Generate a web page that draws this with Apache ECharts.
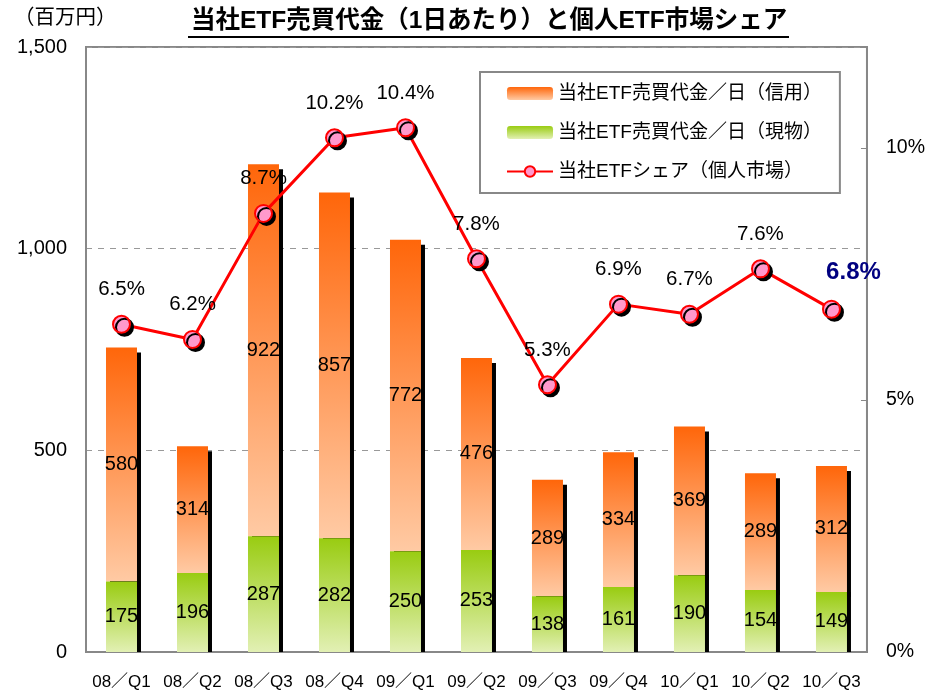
<!DOCTYPE html>
<html>
<head>
<meta charset="utf-8">
<script src="https://cdn.jsdelivr.net/npm/echarts@6/dist/echarts.min.js"></script>
<style>
  html, body { margin: 0; padding: 0; background: #fff; }
  #main { width: 928px; height: 692px; }
</style>
</head>
<body>
<div id="main"></div>
<script>
// データ
const categories = ["08／Q1", "08／Q2", "08／Q3", "08／Q4", "09／Q1", "09／Q2", "09／Q3", "09／Q4", "10／Q1", "10／Q2", "10／Q3"];
const genbutsu = [175, 196, 287, 282, 250, 253, 138, 161, 190, 154, 149]; // 現物
const shinyo = [580, 314, 922, 857, 772, 476, 289, 334, 369, 289, 312];   // 信用
const share = [6.5, 6.2, 8.7, 10.2, 10.4, 7.8, 5.3, 6.9, 6.7, 7.6, 6.8];  // 個人市場シェア(%)
const leftTicks = [0, 500, 1000, 1500];
const rightTicks = [0, 5, 10];

const FONT = "'Liberation Sans', 'Noto Sans CJK JP', sans-serif";

let el = document.getElementById("main");
let myChart = echarts.init(el);

let lastIdx = share.length - 1;
let shareData = share.map((v, i) => {
  if (i === lastIdx) {
    return {
      value: v,
      label: { color: "#000080", fontWeight: "bold", fontSize: 24, offset: [22, 0] },
    };
  }
  return v;
});

myChart.setOption({
  animation: false,
  textStyle: { fontFamily: FONT },
  title: {
    text: "当社ETF売買代金（1日あたり）と個人ETF市場シェア",
    left: 186,
    top: 4,
    textStyle: { fontSize: 24.5, fontWeight: "bold", color: "#000", fontFamily: FONT },
  },
  graphic: [
    {
      type: "line",
      shape: { x1: 188, y1: 37, x2: 789, y2: 37 },
      style: { stroke: "#000", lineWidth: 2 },
    },
    {
      type: "text",
      left: 14,
      top: 8,
      style: { text: "（百万円）", fontSize: 20.5, fill: "#000", fontFamily: FONT },
    },
  ],
  legend: {
    orient: "vertical",
    left: 480,
    top: 72,
    padding: [12, 18, 12, 26],
    itemGap: 20,
    itemWidth: 46,
    itemHeight: 13,
    backgroundColor: "#fff",
    borderColor: "#888",
    borderWidth: 2,
    textStyle: { fontSize: 19, color: "#000", fontFamily: FONT },
    itemStyle: { shadowColor: "transparent", shadowBlur: 0, shadowOffsetX: 0, shadowOffsetY: 0 },
    lineStyle: { shadowColor: "transparent", shadowBlur: 0, shadowOffsetX: 0, shadowOffsetY: 0 },
    data: ["当社ETF売買代金／日（信用）", "当社ETF売買代金／日（現物）", "当社ETFシェア（個人市場）"],
  },
  grid: {
    left: 86,
    right: 60,
    top: 47,
    bottom: 40,
    show: true,
    borderColor: "#888",
    borderWidth: 2,
  },
  xAxis: {
    type: "category",
    data: categories,
    axisLine: { lineStyle: { color: "#888", width: 2 } },
    axisTick: { inside: true, length: 6, lineStyle: { color: "#888" } },
    axisLabel: { interval: 0, color: "#000", fontSize: 17, margin: 22, fontFamily: FONT },
  },
  yAxis: [
    {
      type: "value",
      min: leftTicks[0],
      max: leftTicks[leftTicks.length - 1],
      interval: 500,
      axisLine: { show: true, lineStyle: { color: "#888", width: 2 } },
      axisTick: { show: false },
      axisLabel: {
        color: "#000",
        fontSize: 20,
        margin: 19,
        fontFamily: FONT,
        formatter: (v) => v.toLocaleString("en-US"),
      },
      splitLine: { lineStyle: { color: "#999", type: [6, 6], width: 1 } },
    },
    {
      type: "value",
      min: rightTicks[0],
      max: 12,
      interval: 5,
      axisLine: { show: true, lineStyle: { color: "#888", width: 2 } },
      axisTick: { show: true, inside: true, length: 6, lineStyle: { color: "#888" } },
      axisLabel: {
        color: "#000",
        fontSize: 19.5,
        margin: 19,
        fontFamily: FONT,
        showMaxLabel: false,
        formatter: (v) => (rightTicks.indexOf(v) >= 0 ? v + "%" : ""),
      },
      splitLine: { show: false },
    },
  ],
  series: [
    {
      name: "当社ETF売買代金／日（現物）",
      type: "bar",
      stack: "total",
      data: genbutsu,
      barWidth: 31,
      z: 3,
      itemStyle: {
        color: new echarts.graphic.LinearGradient(0, 0, 0, 1, [
          { offset: 0, color: "#99cc11" },
          { offset: 1, color: "#e2f0b4" },
        ]),
        shadowColor: "#000",
        shadowBlur: 0,
        shadowOffsetX: 4,
        shadowOffsetY: 0,
      },
      label: { show: true, position: "inside", color: "#000", fontSize: 20, fontFamily: FONT },
    },
    {
      name: "当社ETF売買代金／日（信用）",
      type: "bar",
      stack: "total",
      data: shinyo,
      barWidth: 31,
      z: 2,
      itemStyle: {
        color: new echarts.graphic.LinearGradient(0, 0, 0, 1, [
          { offset: 0, color: "#ff660a" },
          { offset: 1, color: "#ffcaa4" },
        ]),
        shadowColor: "#000",
        shadowBlur: 0,
        shadowOffsetX: 4,
        shadowOffsetY: 5,
      },
      label: { show: true, position: "inside", color: "#000", fontSize: 20, fontFamily: FONT },
    },
    {
      name: "当社ETFシェア（個人市場）",
      type: "line",
      yAxisIndex: 1,
      data: shareData,
      z: 5,
      symbol: "circle",
      symbolSize: 17,
      lineStyle: { color: "#ff0000", width: 3 },
      itemStyle: {
        color: "#ff99cc",
        borderColor: "#ff0000",
        borderWidth: 2,
        shadowColor: "#000",
        shadowBlur: 0,
        shadowOffsetX: 3,
        shadowOffsetY: 3,
      },
      label: {
        show: true,
        position: "top",
        distance: 15,
        color: "#000",
        fontSize: 20.5,
        fontFamily: FONT,
        formatter: (p) => p.value + "%",
      },
    },
  ],
});
</script>
</body>
</html>
